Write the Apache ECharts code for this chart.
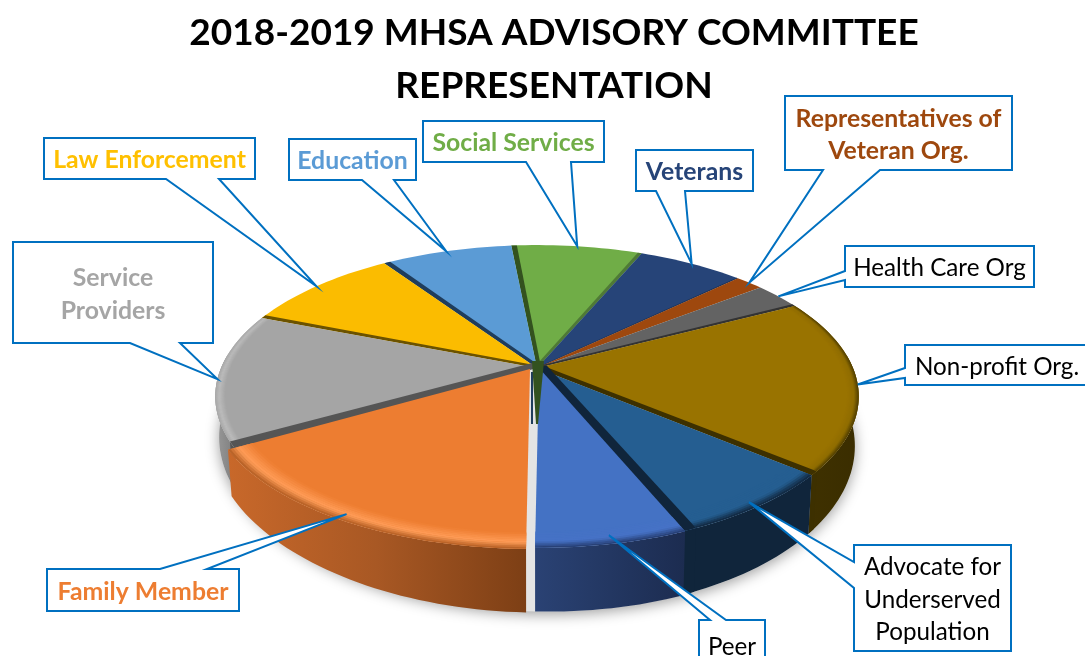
<!DOCTYPE html>
<html>
<head>
<meta charset="utf-8">
<title>2018-2019 MHSA Advisory Committee Representation</title>
<script src="https://cdn.jsdelivr.net/npm/echarts@6/dist/echarts.min.js"></script>
<style>
html,body{margin:0;padding:0;background:#fff;overflow:hidden}
#chart{width:1085px;height:656px}
</style>
</head>
<body>
<div id="chart"></div>
<script>
// Share of committee seats (percent) per represented group, clockwise
const categories = ['Non-profit Org.', 'Advocate for Underserved Population', 'Peer', 'Family Member',
  'Service Providers', 'Law Enforcement', 'Education', 'Social Services', 'Veterans',
  'Representatives of Veteran Org.', 'Health Care Org'];
const seatShare = [18.8, 7.6, 6.4, 16.5, 14.3, 9.6, 7.9, 7.9, 6.4, 1.7, 2.9];

const titleLines = ['2018-2019 MHSA ADVISORY COMMITTEE', 'REPRESENTATION'];

// Per-slice styling, same order as the categories
const topColors  = ['#997300', '#255e91', '#4472c4', '#ed7d31', '#a5a5a5', '#fbbc00', '#5b9bd5', '#70ad47', '#264478', '#9e480e', '#636363'];
const wallColors = ['#3d3000', '#10253b', '#4472c4', '#ed7d31', '#555555', '#6b5200', '#1f3d5c', '#33521f', '#1c3359', '#7a3609', '#333333'];
const wallEndColors = ['#3d3000', '#10253b', '#4472c4', '#ed7d31', '#a5a5a5', '#fbbc00', '#5b9bd5', '#4f7a36', '#1c3359', '#9e480e', '#333333'];
const wallStart  = [0, 0, 0, 0, 2.6, 1.3, 1.4, 1.2, 0, 0, 0];
const wallEnd    = [1.6, 2.2, 0, 0, 0, 0, 0, 0.9, 0.3, 0, 0.9];
const bevelHigh  = ['#8f6c00', '#255e91', '#4672c6', '#ff9d58', '#bcbcbc', null, null, null, null, null, null];
const bevelEdge  = ['#4a3a00', '#10253b', '#243a6c', '#b05c22', '#a8a8a8', null, null, null, null, null, null];
const bevelInner = [0.965, 0.925, 0.925, 0.925, 0.97, 1, 1, 1, 1, 1, 1];
const sideStops  = [['#3f3100', '#3a2d00'], ['#10253b', '#10253b'], ['#2a4274', '#1c2c50'],
  ['#c8682a', '#a85824', '#7d3f15'], ['#9a9a9a', '#787878']];
const sliceOffset = [[0, 0], [0, 0], [2, 0], [-7, 1], [0, 0], [0, 0], [0, 0], [0, 0], [0, 0], [0, 0], [0, 0]];

const textColors = ['#000', '#000', '#000', '#ed7d31', '#a5a5a5', '#ffc000', '#5b9bd5', '#70ad47', '#264478', '#9e480e', '#000'];
const textBold   = [false, false, false, true, true, true, true, true, true, true, false];

// Callout boxes: rect, side the pointer leaves from, pointer base, and how far out along the slice it lands
const calloutBoxes = [
  { box: [905, 345, 184, 40], side: 'left', base: [368, 378], reach: 1.0, lines: ['Non-profit Org.'] },
  { box: [854, 545, 157, 106], side: 'left', base: [562, 588], reach: 0.97, lines: ['Advocate for', 'Underserved', 'Population'] },
  { box: [699, 620, 66, 50], side: 'top', base: [710, 726], reach: 0.96, lines: ['Peer'] },
  { box: [47, 569, 192, 42], side: 'top', base: [160, 207], reach: 0.97, lines: ['Family Member'] },
  { box: [13, 242, 200, 101], side: 'bottom', base: [130, 180], reach: 1.0, lines: ['Service', 'Providers'] },
  { box: [44, 138, 211, 41], side: 'bottom', base: [166, 219], reach: 1.0, lines: ['Law Enforcement'] },
  { box: [289, 139, 127, 41], side: 'bottom', base: [362, 394], reach: 1.0, lines: ['Education'] },
  { box: [423, 121, 181, 41], side: 'bottom', base: [526, 571], reach: 1.0, lines: ['Social Services'] },
  { box: [636, 150, 117, 41], side: 'bottom', base: [656, 685], reach: 1.0, lines: ['Veterans'] },
  { box: [785, 96, 227, 74], side: 'bottom', base: [823, 880], reach: 1.0, lines: ['Representatives of', 'Veteran Org.'] },
  { box: [845, 246, 189, 41], side: 'left', base: [271, 280], reach: 1.0, lines: ['Health Care Org'] }
];

// Perspective disc: t runs clockwise from the back of the pie, h is 0 on top and 1 at the base
const disc = { cx: 537, cy: 368, a: 316, b: 146, k: 0.188, drop: 42, tilt: 0.1, startAngle: 62.5 };
const rad = Math.PI / 180;

function project(tDeg, r, h, off) {
  const X = Math.sin(tDeg * rad) * r;
  const Y = -Math.cos(tDeg * rad) * r;
  const w = 1 / (1 - disc.k * Y);
  const o = off || [0, 0];
  return [
    disc.cx + o[0] + disc.a * X * w * (1 - 0.012 * h),
    disc.cy + o[1] + disc.b * Y * w + h * disc.drop * w * w * (1 + disc.tilt * X)
  ];
}

function arc(t0, t1, r, h, off) {
  const pts = [];
  const n = Math.max(2, Math.ceil(Math.abs(t1 - t0) / 1.5));
  for (let i = 0; i <= n; i++) pts.push(project(t0 + (t1 - t0) * i / n, r, h, off));
  return pts;
}

// Slice angular extents derived from the seat shares
const total = seatShare.reduce((s, v) => s + v, 0);
const extents = [];
seatShare.reduce((t, v, i) => { const t1 = t + v / total * 360; extents[i] = [t, t1]; return t1; }, disc.startAngle);

const lerp = (p, c0, c1) => echarts.color.lerp(p, [c0, c1]);
const norm = t => ((t % 360) + 360) % 360;

// Cut face of a slice: a band of nearly constant width from the rim to the centre
function cutBand(tRim, tInner, off, fill) {
  const apex = project(tRim, 0, 0, off);
  const rimA = project(tRim, 1, 0, off);
  const rimB = project(tInner, 1, 0, off);
  const inner = [apex[0] + (rimB[0] - rimA[0]) * 0.75, apex[1] + (rimB[1] - rimA[1]) * 0.75];
  return { type: 'polygon', shape: { points: [apex].concat(arc(tRim, tInner, 1, 0, off), [inner]) }, style: { fill } };
}

function sliceElements(i) {
  const [t0, t1] = extents[i];
  const off = sliceOffset[i];
  const top = topColors[i];
  const a0 = t0 + wallStart[i];
  const a1 = t1 - wallEnd[i];
  const els = [];

  // Outer wall of the front slices
  const s0 = Math.max(t0, 85), s1 = Math.min(t1, 275);
  if (s1 > s0 && sideStops[i]) {
    const stops = sideStops[i];
    els.push({
      type: 'polygon',
      shape: { points: arc(s0, s1, 1, 0, off).concat(arc(s1, s0, 1, 1, off)) },
      style: {
        fill: new echarts.graphic.LinearGradient(0, 0, 1, 0,
          stops.map((c, j) => ({ offset: j / (stops.length - 1), color: c })))
      }
    });
    if (wallEnd[i] > 0 && t1 < 275) {
      els.push({ type: 'polygon',
        shape: { points: arc(a1, s1, 1, 0, off).concat(arc(s1, a1, 1, 1, off)) },
        style: { fill: wallEndColors[i] } });
    }
    if (wallStart[i] > 0 && t0 > 85) {
      els.push({ type: 'polygon',
        shape: { points: arc(s0, a0, 1, 0, off).concat(arc(a0, s0, 1, 1, off)) },
        style: { fill: wallColors[i] } });
    }
  }

  // Coloured top of the slice
  const apex = project(t0, 0, 0, off);
  els.push({ type: 'polygon', shape: { points: [apex].concat(arc(t0, t1, 1, 0, off)) },
    style: { fill: top } });

  // Rounded rim of the top face, built from thin rings
  if (bevelHigh[i]) {
    const rings = 10, inR = bevelInner[i];
    for (let k = 0; k < rings; k++) {
      const r0 = inR + (1 - inR) * k / rings;
      const r1 = inR + (1 - inR) * (k + 1) / rings + 0.001;
      const p = (k + 0.5) / rings;
      const col = p < 0.6 ? lerp(p / 0.6, top, bevelHigh[i]) : lerp((p - 0.6) / 0.4, bevelHigh[i], bevelEdge[i]);
      els.push({ type: 'polygon',
        shape: { points: arc(a0, a1, r0, 0, off).concat(arc(a1, a0, Math.min(r1, 1), 0, off)) },
        style: { fill: col } });
    }
  }

  // Cut faces along the slice's straight edges
  if (wallStart[i] > 0) els.push(cutBand(t0, a0, off, wallColors[i]));
  if (wallEnd[i] > 0) els.push(cutBand(t1, a1, off, wallEndColors[i]));
  return els;
}

// Paint from the back of the pie towards the viewer
const paintOrder = categories.map((_, i) => i).sort((p, q) => {
  const d = i => Math.abs(norm((extents[i][0] + extents[i][1]) / 2) - 180);
  return d(q) - d(p);
});

function calloutPoints(c, tip) {
  const [x, y, w, h] = c.box;
  const [b0, b1] = c.base;
  const pts = [[x, y]];
  if (c.side === 'top') pts.push([b0, y], tip, [b1, y]);
  pts.push([x + w, y], [x + w, y + h]);
  if (c.side === 'bottom') pts.push([b1, y + h], tip, [b0, y + h]);
  pts.push([x, y + h]);
  if (c.side === 'left') pts.push([x, b1], tip, [x, b0]);
  return pts;
}

const option = {
  animation: false,
  title: {
    text: titleLines.join('\n'),
    left: 549, top: 2, textAlign: 'center',
    textStyle: { fontFamily: 'Lato', fontWeight: 'bold', fontSize: 37, lineHeight: 53, color: '#000' }
  },
  series: [
    {
      // Soft shadow under the base of the pie
      type: 'custom', coordinateSystem: 'none', silent: true, z: 1,
      data: [0],
      renderItem: () => ({
        type: 'polygon',
        shape: { points: arc(0, 360, 1, 1) },
        style: { fill: '#e4e4e4', shadowBlur: 14, shadowColor: 'rgba(0,0,0,0.38)', shadowOffsetY: 3 }
      })
    },
    {
      type: 'custom', coordinateSystem: 'none', silent: true, z: 2,
      data: paintOrder,
      renderItem: (params, api) => ({ type: 'group', children: sliceElements(api.value(0)) })
    },
    {
      // Cut face running down through the middle of the pie
      type: 'custom', coordinateSystem: 'none', silent: true, z: 3,
      data: [7],
      renderItem: (params, api) => {
        const c = [disc.cx, disc.cy];
        return { type: 'group', children: [
          { type: 'polygon', shape: { points: [[c[0] - 6, c[1] + 4], [c[0] - 4, c[1] + 4], [c[0] - 4, c[1] + 56], [c[0] - 6, c[1] + 56]] },
            style: { fill: '#1f3d5c' } },
          { type: 'polygon', shape: { points: [[c[0] - 5, c[1] - 7], [c[0] + 7, c[1] - 7], [c[0] + 1, c[1] + 56], [c[0] - 1, c[1] + 56]] },
            style: { fill: wallColors[api.value(0)] } }
        ] };
      }
    },
    {
      type: 'custom', coordinateSystem: 'none', silent: true, z: 4,
      data: categories.map((_, i) => i),
      renderItem: (params, api) => {
        const i = api.value(0);
        const c = calloutBoxes[i];
        const tip = project((extents[i][0] + extents[i][1]) / 2, c.reach, 0, sliceOffset[i]);
        const fs = textBold[i] ? 24.8 : 24.2;
        const lh = 32.5;
        return { type: 'group', children: [
          { type: 'polygon', shape: { points: calloutPoints(c, tip) },
            style: { fill: '#fff', stroke: '#0070c0', lineWidth: 2, lineJoin: 'miter' } },
          { type: 'text',
            style: {
              x: c.box[0] + c.box[2] / 2, y: c.box[1] + c.box[3] / 2 + 2,
              text: c.lines.join('\n'), align: 'center', verticalAlign: 'middle',
              font: (textBold[i] ? 'bold ' : '') + fs + 'px Lato', lineHeight: lh,
              fill: textColors[i]
            } }
        ] };
      }
    }
  ]
};

echarts.init(document.getElementById('chart'), null, { renderer: 'canvas' }).setOption(option);
</script>
</body>
</html>
